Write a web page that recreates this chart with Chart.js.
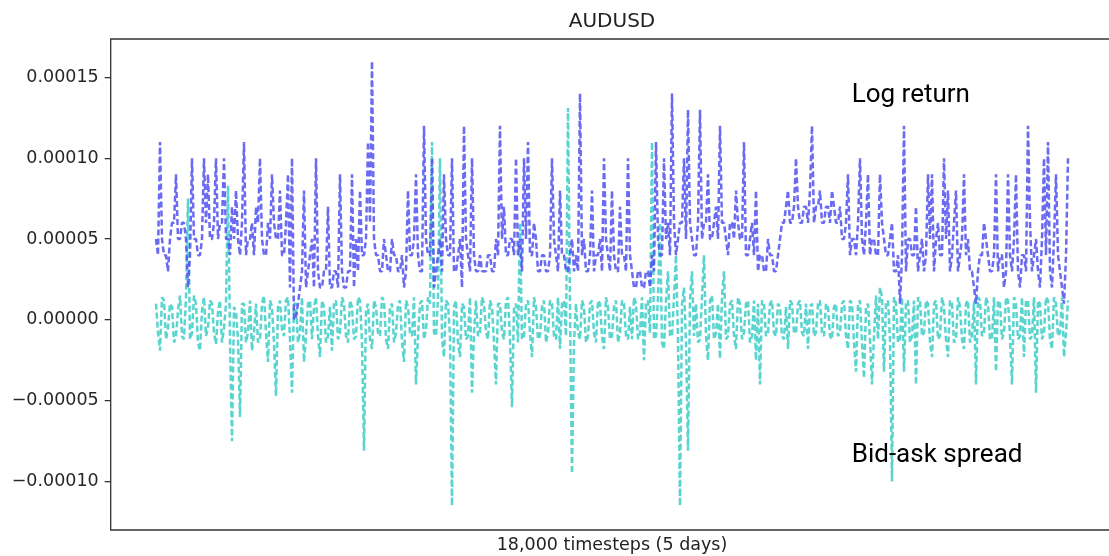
<!DOCTYPE html>
<html>
<head>
<meta charset="utf-8">
<script src="https://cdn.jsdelivr.net/npm/chart.js@4.4.0/dist/chart.umd.min.js"></script>
<style>
  html, body { margin: 0; padding: 0; background: #fff; }
  #wrap { width: 1109px; height: 556px; position: relative; }
</style>
</head>
<body>
<div id="wrap"><canvas id="audusd"></canvas></div>
<script>
// values in units of 1e-6 (so 50 == 0.00005), one sample every ~40 timesteps
var logReturn = [
  50,40,110,50,40,40,30,50,60,60,90,50,50,60,60,50,20,40,100,50,
  50,40,40,50,100,60,90,50,50,60,100,50,60,60,100,50,50,40,70,50,
  80,50,40,60,110,40,50,50,60,40,70,60,100,50,40,40,60,50,90,60,
  50,50,80,40,40,60,90,20,100,0,2,10,20,30,80,20,30,40,50,20,
  100,30,20,20,30,30,70,20,20,30,30,20,90,30,20,20,30,30,90,20,
  50,30,80,40,40,50,110,60,160,50,40,40,30,30,50,40,30,30,50,40,
  40,30,30,40,20,30,80,40,40,50,90,40,30,30,120,50,40,40,100,20,
  30,40,50,30,90,50,40,40,100,30,30,40,50,20,120,50,40,30,100,40,
  30,30,40,30,30,30,40,40,30,30,50,40,120,50,70,40,40,50,50,40,
  100,40,50,30,100,50,110,40,40,60,50,30,30,40,40,30,30,40,100,50,
  40,30,80,40,40,30,30,40,50,30,40,30,140,40,50,30,30,40,80,30,
  40,40,50,30,100,50,40,30,80,40,30,30,70,40,40,30,100,40,30,20,
  20,30,30,20,20,30,30,20,40,30,110,50,40,40,100,50,60,40,140,60,
  40,50,60,60,100,50,130,60,50,40,40,60,130,50,60,60,90,50,50,60,
  70,50,120,60,60,50,40,60,60,50,80,60,50,50,110,40,40,50,60,40,
  80,30,40,40,30,30,50,40,40,30,30,40,50,60,60,70,80,60,60,70,
  100,70,60,60,70,70,60,80,120,60,70,70,80,60,60,70,70,60,80,70,
  60,60,70,50,50,60,90,40,50,50,40,60,100,50,40,60,90,40,50,50,
  40,40,90,60,50,40,40,50,60,30,30,40,10,40,120,30,50,50,40,40,
  70,30,40,50,30,40,90,50,90,30,50,60,40,40,100,50,80,30,40,60,
  80,30,40,50,90,40,50,30,30,20,10,30,40,40,60,50,40,30,30,40,
  90,30,40,40,20,30,90,40,30,50,90,30,20,40,40,30,120,60,30,40,
  50,30,20,50,100,40,110,30,20,50,90,40,30,20,10,40,100
];

var bidAskSpread = [
  10,-8,-19,14,12,-12,-5,10,8,-14,-10,6,15,-10,-12,14,75,-12,-8,15,
  10,-14,-19,6,14,-10,-5,12,10,-8,-15,5,12,-14,-5,10,83,-12,-75,8,
  5,-12,-60,10,10,-14,-8,12,-19,-8,10,-14,-12,10,15,-8,-26,12,8,-14,
  -47,8,12,-6,-10,12,14,-12,-45,10,10,-14,-8,14,-26,-10,10,12,-12,8,
  14,-10,-23,12,8,-14,-10,8,-19,10,12,-12,-8,14,10,-10,-14,12,8,-12,
  -10,14,12,-14,-81,6,10,-12,-18,12,8,-8,-10,14,12,-12,-18,8,10,-14,
  -8,10,12,-14,-26,12,8,-8,-10,14,-40,-10,10,12,-12,-6,14,10,110,-8,
  -10,14,100,-12,-23,12,10,-10,-115,8,12,-14,-23,10,8,-12,-10,14,-45,-8,
  12,-10,-8,14,10,-8,-12,12,8,-14,-40,10,10,-8,-12,12,14,-12,-54,8,
  10,-14,60,-12,-10,10,12,-8,-23,14,8,-12,-10,8,12,-14,-8,12,10,-10,
  -12,14,-18,10,12,-10,131,8,-95,-14,10,-8,-12,12,8,-14,-10,10,12,-8,
  -14,12,10,-10,-18,14,8,-12,-10,8,12,-14,-8,12,10,-10,-12,8,-12,14,
  10,-12,-8,14,-25,10,12,-8,110,-12,-10,14,60,-14,-18,12,30,-10,-10,14,
  40,-12,-115,10,20,-14,-81,12,30,-10,10,-14,-12,14,40,-10,-25,12,15,-12,
  -8,10,-24,14,30,-12,-10,10,12,-10,-18,14,10,-12,-8,10,12,-14,-10,12,
  -25,10,-40,12,10,-10,-8,10,12,-8,-10,10,8,-10,-12,8,-18,12,10,-8,
  -8,10,12,-8,-10,10,-18,8,10,-10,-8,10,12,-8,-10,10,8,-10,-12,8,
  10,-10,-8,10,12,-10,-18,12,10,-14,-32,10,12,-14,-36,8,10,-12,-40,-10,
  15,-12,20,14,-32,10,12,-12,-100,14,10,-14,-12,14,-32,10,12,-14,-10,12,
  -40,14,12,-10,-8,12,10,-14,-23,10,12,-12,-10,14,8,-12,-23,12,10,-14,
  -12,14,8,-12,-18,10,12,-14,-10,12,-40,14,12,-10,-8,14,10,-12,-12,14,
  -32,12,10,-12,-8,14,12,-10,-40,14,10,-12,-10,14,-23,12,12,-12,-10,14,
  -45,12,10,-12,-8,14,12,-12,-18,14,10,-10,-8,14,-23,-8,12
];

var yTickValues = [150, 100, 50, 0, -50, -100];
var yTickLabels = ['0.00015', '0.00010', '0.00005', '0.00000', '\u22120.00005', '\u22120.00010'];

var chartTitle = 'AUDUSD';
var xTitle = '18,000 timesteps (5 days)';

// text labels inside the plot, anchored in data units
var notes = [
  { text: 'Log return', x: 347.85, y: 135 },
  { text: 'Bid-ask spread', x: 347.85, y: -88 }
];

function toPoints(arr) {
  return arr.map(function (v, i) { return { x: i, y: v }; });
}

var framePlugin = {
  id: 'frame',
  afterDatasetsDraw: function (chart) {
    var a = chart.chartArea, ctx = chart.ctx;
    ctx.save();
    ctx.strokeStyle = '#333';
    ctx.lineWidth = 1.3;
    ctx.beginPath();
    ctx.moveTo(chart.width, a.top);
    ctx.lineTo(a.left, a.top);
    ctx.lineTo(a.left, a.bottom);
    ctx.lineTo(chart.width, a.bottom);
    ctx.stroke();
    ctx.restore();
  }
};

var textPlugin = {
  id: 'texts',
  afterDraw: function (chart) {
    var ctx = chart.ctx, xs = chart.scales.x, ys = chart.scales.y;
    var mid = xs.getPixelForValue((logReturn.length - 1) / 2);
    ctx.save();
    ctx.fillStyle = '#222';
    ctx.textAlign = 'center';
    ctx.textBaseline = 'alphabetic';
    ctx.font = '20px "DejaVu Sans"';
    ctx.fillText(chartTitle, mid, 27);
    ctx.font = '17.5px "DejaVu Sans"';
    ctx.fillText(xTitle, mid, 550);
    ctx.fillStyle = '#000';
    ctx.textAlign = 'left';
    ctx.font = '26px Roboto';
    notes.forEach(function (n) {
      ctx.fillText(n.text, xs.getPixelForValue(n.x), ys.getPixelForValue(n.y));
    });
    ctx.restore();
  }
};

var ctx = document.getElementById('audusd');
var myChart = new Chart(ctx, {
  type: 'line',
  data: {
    datasets: [
      {
        label: 'Log return',
        data: toPoints(logReturn),
        borderColor: 'rgba(80, 80, 240, 0.85)',
        borderWidth: 2.5,
        borderDash: [6, 3],
        borderJoinStyle: 'bevel',
        pointRadius: 0,
        tension: 0,
        order: 0
      },
      {
        label: 'Bid-ask spread',
        data: toPoints(bidAskSpread),
        borderColor: 'rgba(80, 210, 204, 0.95)',
        borderWidth: 2.5,
        borderDash: [6, 3],
        borderJoinStyle: 'bevel',
        pointRadius: 0,
        tension: 0,
        order: 1
      }
    ]
  },
  options: {
    responsive: true,
    maintainAspectRatio: false,
    animation: false,
    devicePixelRatio: 1,
    layout: { padding: { top: 39, left: 0, right: 0, bottom: 26 } },
    plugins: {
      legend: { display: false },
      tooltip: { enabled: false },
      title: { display: false }
    },
    scales: {
      x: {
        type: 'linear',
        display: false,
        min: -22.65,
        max: 476.5
      },
      y: {
        min: -129.95,
        max: 173.7,
        afterFit: function (s) { s.width = 110.7; },
        afterBuildTicks: function (s) {
          s.ticks = yTickValues.map(function (v) { return { value: v }; });
        },
        ticks: {
          autoSkip: false,
          padding: 6,
          color: '#262626',
          font: { family: 'DejaVu Sans', size: 17.5 },
          callback: function (v) { return yTickLabels[yTickValues.indexOf(v)]; }
        },
        grid: {
          drawOnChartArea: false,
          drawTicks: true,
          tickLength: 6,
          color: '#333',
          lineWidth: 1.3
        },
        border: { display: false }
      }
    }
  },
  plugins: [framePlugin, textPlugin]
});
</script>
</body>
</html>
